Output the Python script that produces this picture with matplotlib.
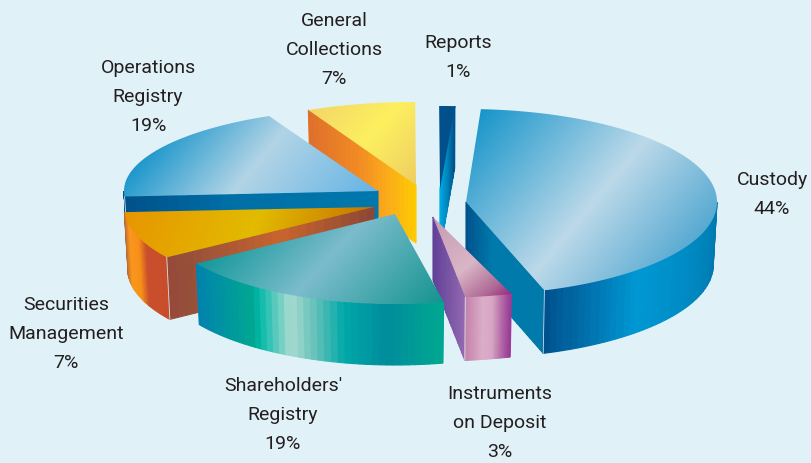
import numpy as np
from matplotlib import pyplot as plt
from matplotlib.colors import LinearSegmentedColormap
from matplotlib.patches import Polygon

#---------------------------------DATA-----------------------------------------------------------------
names = ['Custody', 'Instruments\non Deposit', "Shareholders'\nRegistry", 'Securities\nManagement',
         'Operations\nRegistry', 'General\nCollections', 'Reports']
shares = [44, 3, 19, 7, 19, 7, 1]

#---------------------------------LAYOUT (picture pixels, the art is hand exploded)---------------------
start_angle = 86.6
apex_x = [466, 433, 395, 374, 378, 416, 440]
apex_y = [203, 218, 215, 208, 192, 186, 190]
rad_x = [251, 251, 238, 250, 254, 251, 251]
rad_y = [93, 81, 90, 90, 83, 83, 83]
depth = [63, 63, 61, 62, 56, 58, 62]
nudge = [0, 0, 4.4, 5, 0, 0, 0]
sweep_scale = [1, 1, 1, 1.22, 1, 1, 1]
draw_order = [5, 4, 6, 0, 1, 3, 2]

label_x = [772, 500, 283, 66, 148, 334, 458]
label_y = [180, 394, 386, 305, 68, 21, 43]
line_step = 29

#---------------------------------COLOURS---------------------------------------------------------------
bg = '#e0f1f8'
grad_angle = [40, 50, 43, 20, 40, 40, 40]
top_stops = [
    [(0, '#1795ca'), (.587, '#bcd9e9'), (1, '#58aad2')],
    [(0, '#c89ab2'), (.55, '#d9b6c6'), (.85, '#b06a96'), (1, '#9b2a80')],
    [(0, '#12989a'), (.45, '#7cbccc'), (1, '#149490')],
    [(0, '#e79500'), (.55, '#e2bb00'), (1, '#c77500')],
    [(0, '#1f98cc'), (.45, '#b2d4e6'), (1, '#65b4e5')],
    [(0, '#f3d667'), (.5, '#fdf05f'), (1, '#efcd62')],
    [(0, '#02508c'), (1, '#02508c')],
]
# outer wall runs left to right, cut faces run apex to rim
outer_stops = [
    [(0, '#00508c'), (.35, '#0098d4'), (.7, '#0086be'), (1, '#0078ae')],
    [(0, '#c47fa8'), (.4, '#dbaec9'), (.6, '#d8a5c5'), (.8, '#b56ca8'), (1, '#993a96')],
    [(0, '#0080b0'), (.3, '#00a890'), (.32, '#00b8a8'), (.45, '#a8dad0'), (.55, '#60c0b8'),
     (.65, '#00a8a8'), (.8, '#008c9c'), (1, '#00a890')],
    [(0, '#a5603a'), (.3, '#fa961e'), (.55, '#f79018'), (.7, '#c94f2c'), (1, '#c94d2a')],
    [(0, '#00508a'), (1, '#00508a')],
    None,
    None,
]
# cut face on the clockwise start edge, and on the clockwise end edge
start_face = [
    None,
    None,
    None,
    [(0, '#8a4636'), (.45, '#c9642e'), (.9, '#96503a'), (1, '#96483a')],
    [(0, '#0078ad'), (.6, '#006fa5'), (1, '#00508a')],
    [(0, '#ffcc00'), (.3, '#fba91c'), (.55, '#f18a23'), (1, '#df702b')],
    None,
]
end_face = [
    [(0, '#00508b'), (.35, '#0079ab'), (1, '#0079ab')],
    [(0, '#5f3f97'), (1, '#9268b0')],
    None,
    None,
    None,
    None,
    [(0, '#00aee8'), (.5, '#0088c0'), (1, '#00528c')],
]

#---------------------------------HELPERS---------------------------------------------------------------
fig = plt.figure(figsize=(8.11, 4.64), dpi=100, facecolor=bg)
ax = fig.add_axes([0, 0, 1, 1])
ax.set_xlim(0, 811)
ax.set_ylim(464, 0)
ax.axis('off')
z = [1]


def next_z():
    z[0] += 1
    return z[0]


def rim(i, t, shrink=1.0):
    r = np.radians(t)
    return apex_x[i] + rad_x[i] * shrink * np.cos(r), apex_y[i] - rad_y[i] * np.sin(r)


def strip_wall(top_x, top_y, bot_x, bot_y, stops, nband=36):
    # banded wall, like the stepped blends of the original artwork
    cmap = LinearSegmentedColormap.from_list('w', stops)
    idx = np.linspace(0, len(top_x) - 1, nband + 1).astype(int)
    zz = next_z()
    for k in range(nband):
        a, b = idx[k], idx[k + 1]
        if b <= a:
            continue
        xs = np.r_[top_x[a:b + 1], bot_x[a:b + 1][::-1]]
        ys = np.r_[top_y[a:b + 1], bot_y[a:b + 1][::-1]]
        c = cmap((k + .5) / nband)
        ax.fill(xs, ys, color=c, lw=.8, zorder=zz)


def cut_face(i, t, stops):
    rx, ry = rim(i, t)
    bx, _ = rim(i, t, .985)
    f = np.linspace(0, 1, 120)
    top_x = apex_x[i] + (rx - apex_x[i]) * f
    top_y = apex_y[i] + (ry - apex_y[i]) * f
    bot_x = apex_x[i] + (bx - apex_x[i]) * f
    strip_wall(top_x, top_y, bot_x, top_y + depth[i], stops, 24)


def top_face(i, ts, stops, angle):
    rx, ry = rim(i, ts)
    xs = np.r_[apex_x[i], rx]
    ys = np.r_[apex_y[i], ry]
    x0, x1, y0, y1 = xs.min(), xs.max(), ys.min(), ys.max()
    gx, gy = np.meshgrid(np.linspace(x0, x1, 300), np.linspace(y0, y1, 300))
    a = np.radians(angle)
    p = gx * np.cos(a) + gy * np.sin(a)
    corners = xs * np.cos(a) + ys * np.sin(a)
    p = np.clip((p - corners.min()) / (corners.max() - corners.min()), 0, 1)
    zz = next_z()
    cmap = LinearSegmentedColormap.from_list('t', stops)
    im = ax.imshow(p, extent=(x0, x1, y1, y0), origin='upper', cmap=cmap, vmin=0, vmax=1,
                   aspect='auto', zorder=zz, interpolation='bilinear')
    patch = Polygon(np.c_[xs, ys], closed=True, fc='none', ec='none', transform=ax.transData)
    ax.add_patch(patch)
    im.set_clip_path(patch)


#---------------------------------WEDGES----------------------------------------------------------------
begin = []
end = []
cum = start_angle
for i, s in enumerate(shares):
    begin.append(cum + nudge[i])
    end.append(begin[i] - s * 3.6 * sweep_scale[i])
    cum = cum - s * 3.6

for i in draw_order:
    if end_face[i] is not None:
        cut_face(i, end[i], end_face[i])
    if start_face[i] is not None:
        cut_face(i, begin[i], start_face[i])
    ts = np.linspace(begin[i], end[i], 200)
    front = ts[np.sin(np.radians(ts)) <= 0][::-1]
    if outer_stops[i] is not None and len(front) > 1:
        if np.cos(np.radians(front[0])) > np.cos(np.radians(front[-1])):
            front = front[::-1]
        tx, ty = rim(i, front)
        bx, _ = rim(i, front, .985)
        strip_wall(tx, ty, bx, ty + depth[i], outer_stops[i], 40)
        # thin light seam where the outer wall meets a visible cut face
        if end_face[i] is not None or start_face[i] is not None:
            t_seam = end[i] if end_face[i] is not None else begin[i]
            sx, sy = rim(i, t_seam)
            ex, _ = rim(i, t_seam, .985)
            ax.plot([sx, ex], [sy, sy + depth[i]], color='#cfe3ee', lw=.6, zorder=next_z())
    top_face(i, ts, top_stops[i], grad_angle[i])

ax.set_xlim(0, 811)
ax.set_ylim(464, 0)

#---------------------------------LABELS----------------------------------------------------------------
for i, name in enumerate(names):
    lines = name.split('\n') + [str(shares[i]) + '%']
    for k, line in enumerate(lines):
        ax.text(label_x[i], label_y[i] + k * line_step, line, ha='center', va='center',
                fontsize=14, color='#231f20', zorder=100, family=['Roboto', 'Liberation Sans'])

fig.savefig('out.png', dpi=100, facecolor=bg)
